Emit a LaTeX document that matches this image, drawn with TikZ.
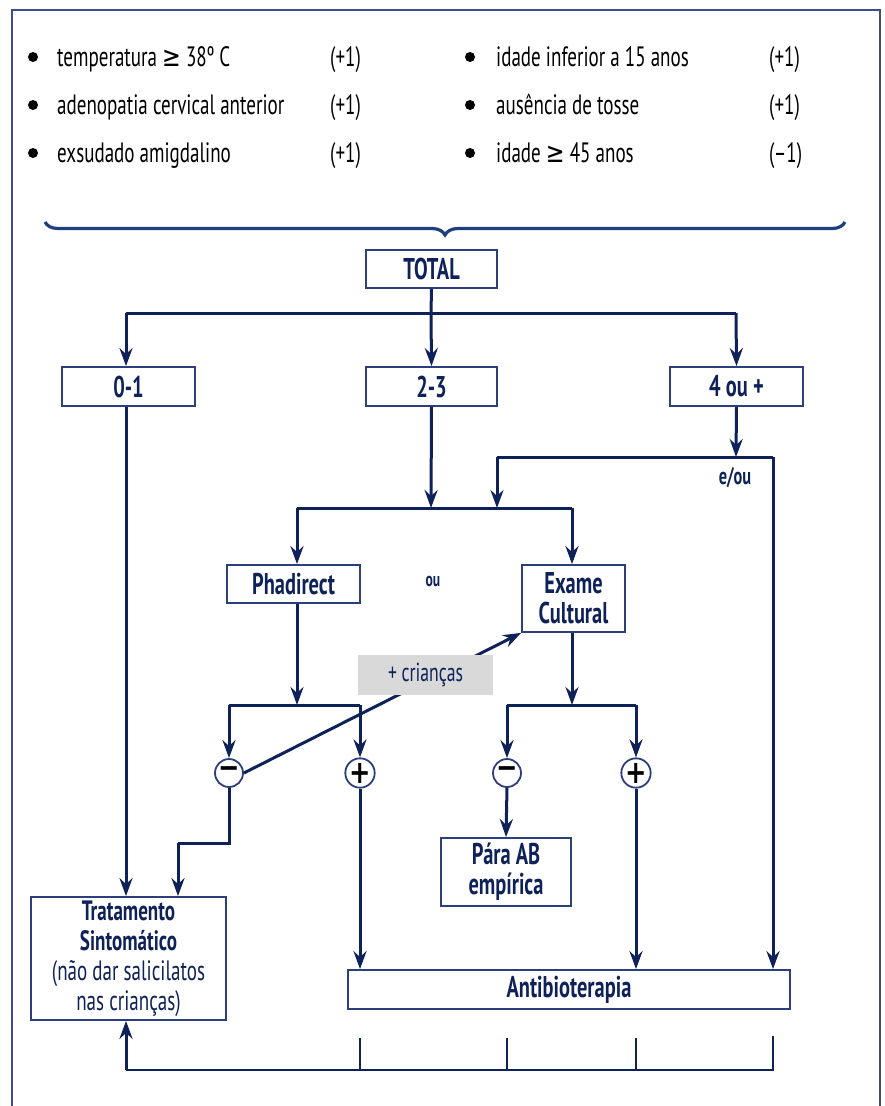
\documentclass[tikz,border=0pt]{standalone}
\usepackage{fontspec}
\setmainfont{PT Sans}[FakeStretch=0.68]
\newfontfamily\symf{DejaVu Sans}[FakeStretch=0.8]
\usetikzlibrary{arrows.meta,decorations.pathreplacing}
\definecolor{navy}{HTML}{0E2159}
\definecolor{boxc}{HTML}{2C3F7C}
\definecolor{framec}{HTML}{3D4C8C}
\definecolor{bracec}{HTML}{1F3F7F}
\definecolor{grayfill}{HTML}{D9D9D9}
\tikzset{
 box/.style={draw=boxc, line width=1.8pt, fill=white, text=navy, font=\fontsize{30}{30}\selectfont\bfseries, align=center, inner sep=0pt},
 conn/.style={draw=navy, line width=3pt},
 arr/.style={conn, -{Stealth[length=18pt,width=13pt,inset=6pt]}},
 sign/.style={circle, draw=boxc, line width=1.8pt, fill=white, minimum size=28pt, inner sep=0pt, font=\fontsize{32}{32}\selectfont\symf\bfseries, text=black},
 item/.style={anchor=base west, font=\fontsize{28}{28}\selectfont, text=black, inner sep=0pt},
 pts/.style={anchor=base west, font=\fontsize{28}{28}\selectfont, text=black, inner sep=0pt},
 dot/.style={circle, fill=black, minimum size=10pt, inner sep=0pt},
 lbl/.style={text=navy, font=\bfseries, inner sep=0pt},
}
\begin{document}
\begin{tikzpicture}[x=1pt,y=-1pt]
\useasboundingbox (0,0) rectangle (885,1106);
% frame
\draw[framec, line width=1.8pt] (12,1110) -- (12,10) -- (880,10) -- (880,1110);
% criteria
\node[dot] (d1) at (33,57) {};
\node[dot] (d2) at (33,105) {};
\node[dot] (d3) at (33,153) {};
\node[dot] (d4) at (470,57) {};
\node[dot] (d5) at (470,105) {};
\node[dot] (d6) at (470,153) {};
\node[item] (c1) at (57,66) {temperatura {\symf ≥} 38º C};
\node[item] (c2) at (57,114) {adenopatia cervical anterior};
\node[item] (c3) at (57,162) {exsudado amigdalino};
\node[item] (c4) at (496,66) {idade inferior a 15 anos};
\node[item] (c5) at (496,114) {ausência de tosse};
\node[item] (c6) at (496,162) {idade {\symf ≥} 45 anos};
\node[pts] (p1) at (330,66) {(+1)};
\node[pts] (p2) at (330,114) {(+1)};
\node[pts] (p3) at (330,162) {(+1)};
\node[pts] (p4) at (769,66) {(+1)};
\node[pts] (p5) at (769,114) {(+1)};
\node[pts] (p6) at (769,162) {(–1)};
% brace
\draw[bracec, line width=3.2pt, decorate, decoration={brace, amplitude=13pt, mirror}] (45,222) -- (845,222);
% boxes
\node[box, minimum width=131pt, minimum height=38pt] (total) at (431.5,269) {TOTAL};
\node[box, minimum width=133pt, minimum height=39pt] (n01) at (128.5,386.5) {0-1};
\node[box, minimum width=131pt, minimum height=39pt] (n23) at (431.5,386.5) {2-3};
\node[box, minimum width=133pt, minimum height=39pt] (n4) at (736.5,386.5) {4 ou +};
\node[box, minimum width=133pt, minimum height=38pt] (phad) at (293.5,584) {Phadirect};
\node[box, minimum width=103pt, minimum height=67pt] (exame) at (573.5,598.5) {Exame\\Cultural};
\node[box, minimum width=130pt, minimum height=68pt] (para) at (506,872) {Pára AB\\empírica};
\node[box, minimum width=195pt, minimum height=123pt, font=\fontsize{28}{30}\selectfont\bfseries] (trat) at (128.5,958.5) {Tratamento\\Sintomático\\{\mdseries(não dar salicilatos}\\{\mdseries nas crianças)}};
\node[box, minimum width=442pt, minimum height=39pt] (anti) at (569,989.5) {Antibioterapia};
% signs
\node[sign] (m1) at (229,773) {−};
\node[sign] (p1s) at (360,773) {+};
\node[sign] (m2) at (507,773) {−};
\node[sign] (p2s) at (636,773) {+};
% labels
\node[lbl, font=\fontsize{20}{20}\selectfont\bfseries] (ou) at (433,581) {ou};
\node[lbl, font=\fontsize{24}{24}\selectfont\bfseries] (eou) at (735,478) {e/ou};
% junctions
\coordinate (jT) at (431,313);
\coordinate (jL) at (126,313);
\coordinate (jR) at (736,313);
\coordinate (j4) at (736,457);
\coordinate (j4L) at (497,457);
\coordinate (j4R) at (773,457);
\coordinate (j23) at (431,508);
\coordinate (jPL) at (297,508);
\coordinate (jPR) at (572,508);
\coordinate (jP) at (297,705);
\coordinate (jPa) at (229,705);
\coordinate (jPb) at (360,705);
\coordinate (jE) at (572,705);
\coordinate (jEa) at (507,705);
\coordinate (jEb) at (636,705);
\coordinate (mA) at (229,843);
\coordinate (mB) at (178,843);
\coordinate (b0) at (126,1070);
\coordinate (b1) at (360,1070);
\coordinate (b2) at (507,1070);
\coordinate (b3) at (636,1070);
\coordinate (b4) at (773,1070);
\coordinate (t1) at (360,1038);
\coordinate (t2) at (507,1038);
\coordinate (t3) at (636,1038);
\coordinate (t4) at (773,1036);
% connectors
\draw[conn] (total.south) -- (jT);
\draw[conn] (jL) -- (jR);
\draw[arr] (jT) -- (n23.north);
\draw[arr] (jL) -- (jL |- n01.north);
\draw[arr] (jR) -- (n4.north);
\draw[arr] (jL |- n01.south) -- (jL |- trat.north);
\draw[arr] (n23.south) -- (j23);
\draw[conn] (jPL) -- (jPR);
\draw[arr] (jPL) -- (jPL |- phad.north);
\draw[arr] (jPR) -- (jPR |- exame.north);
\draw[arr] (n4.south) -- (j4);
\draw[conn] (j4L) -- (j4R);
\draw[arr] (j4L) -- (j4L |- j23);
\draw[arr] (j4R) -- (j4R |- anti.north);
\draw[arr] (jP |- phad.south) -- (jP);
\draw[conn] (jPa) -- (jPb);
\draw[arr] (jPa) -- (m1.north);
\draw[arr] (jPb) -- (p1s.north);
\draw[arr] (jE |- exame.south) -- (jE);
\draw[conn] (jEa) -- (jEb);
\draw[arr] (jEa) -- (m2.north);
\draw[arr] (jEb) -- (p2s.north);
\draw[arr] (m1.east) -- (exame.south west);
\draw[conn] (m1.south) -- (mA) -- (mB);
\draw[arr] (mB) -- (mB |- trat.north);
\draw[arr] (p1s.south) -- (p1s.south |- anti.north);
\draw[arr] (m2.south) -- (para.north);
\draw[arr] (p2s.south) -- (p2s.south |- anti.north);
\draw[conn, line width=2.4pt] (t4) -- (b4) -- (b0);
\draw[conn, line width=2.4pt] (t1) -- (b1);
\draw[conn, line width=2.4pt] (t2) -- (b2);
\draw[conn, line width=2.4pt] (t3) -- (b3);
\draw[arr] (b0) -- (b0 |- trat.south);
% gray label on top
\node[fill=grayfill, text=navy, minimum width=135pt, minimum height=40pt, inner sep=0pt, font=\fontsize{26}{26}\selectfont] (kids) at (425.5,675) {+ crianças};
\end{tikzpicture}
\end{document}
